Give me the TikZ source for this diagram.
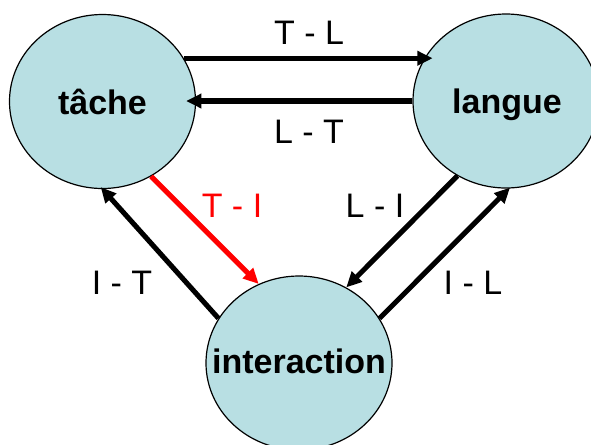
\documentclass[tikz,border=0pt]{standalone}
\usepackage{fontspec}
\setmainfont{Liberation Sans}
\usetikzlibrary{shapes.geometric,arrows.meta}
\definecolor{circfill}{RGB}{184,223,227}
\begin{document}
\begin{tikzpicture}[x=0.75pt,y=-0.75pt,
  bubble/.style={ellipse,draw=black,line width=0.9pt,fill=circfill,inner sep=0pt,
    minimum width=139.5pt,minimum height=130.5pt},
  bubbletext/.style={anchor=base,inner sep=0pt,font=\fontsize{25.5pt}{28pt}\selectfont\bfseries},
  arr/.style={line width=3.8pt,-{Triangle[length=11.5pt,width=10.5pt]}},
  lbl/.style={font=\fontsize{25.5pt}{28pt}\selectfont,inner sep=0pt}]
\useasboundingbox (0,0) rectangle (591,444);
\node[bubble] (tache) at (102.5,101.5) {};
\node[bubble] (langue) at (506,101) {};
\node[bubble] (inter) at (299,363) {};
\node[bubbletext] (ttache) at (102.5,114) {tâche};
\node[bubbletext] (tlangue) at (507,113) {langue};
\node[bubbletext] (tinter) at (299,373) {interaction};
% horizontal arrows
\draw[arr,shorten >=-6pt] (tache.28) -- (tache.28 -| langue.152);
\draw[arr,shorten >=-7.5pt] (langue.west) -- (langue.west -| tache.east);
% diagonal arrows
\draw[arr,red] (tache.303) -- (inter.117);
\draw[arr] (langue.237) -- (inter.58);
\draw[arr,shorten >=-2pt] (inter.151) -- (tache.270);
\draw[arr,shorten >=-1pt] (inter.29) -- (langue.272);
% labels
\node[lbl] (lTL) at (309,33) {T - L};
\node[lbl] (lLT) at (309,132) {L - T};
\node[lbl,text=red] (lTI) at (232,206) {T - I};
\node[lbl] (lLI) at (375,206) {L - I};
\node[lbl] (lIT) at (122,283) {I - T};
\node[lbl] (lIL) at (473,283) {I - L};
\end{tikzpicture}
\end{document}
